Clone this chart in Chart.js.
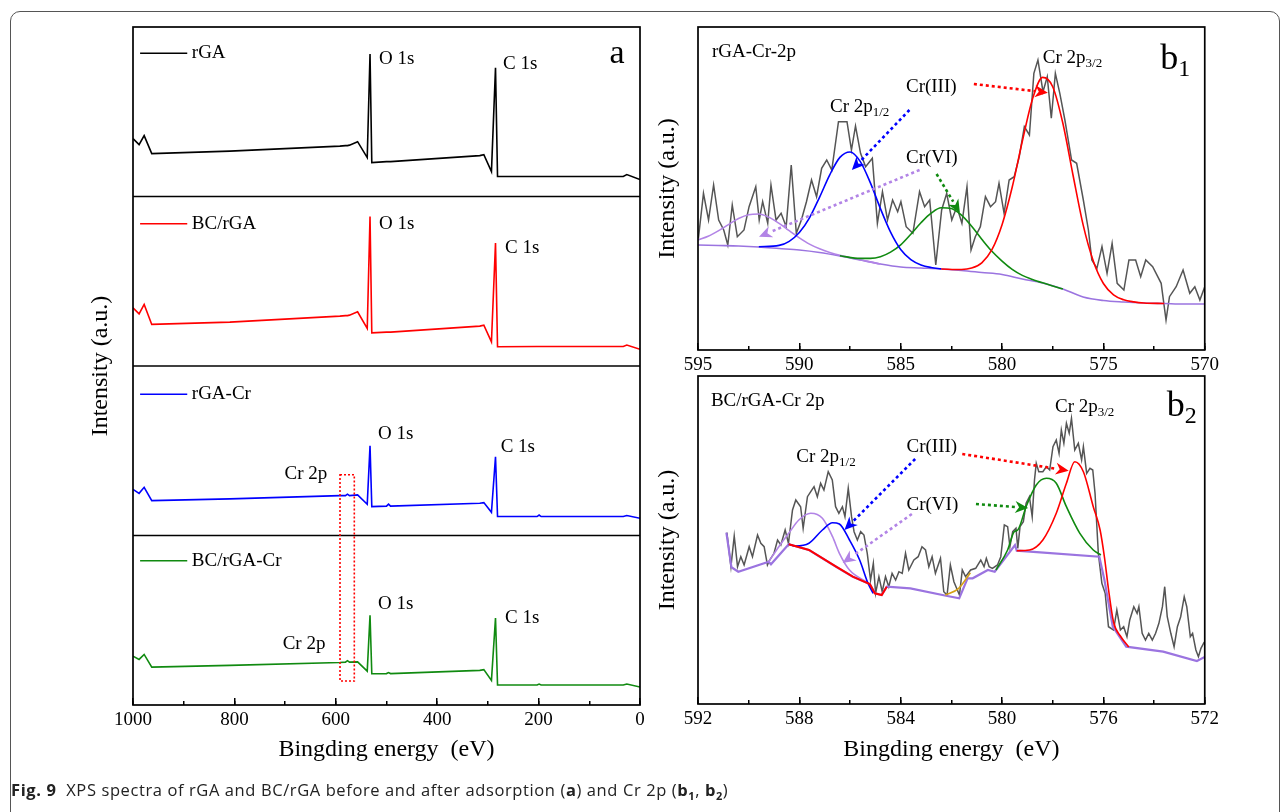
<!DOCTYPE html>
<html>
<head>
<meta charset="utf-8">
<script src="https://cdn.jsdelivr.net/npm/chart.js@4.4.1/dist/chart.umd.min.js"></script>
<style>
  body { margin: 0; background: #fff; width: 1284px; height: 812px; overflow: hidden; position: relative; }
  .frame { position: absolute; left: 10px; top: 11px; width: 1268px; height: 830px; border: 1px solid #555; border-radius: 10px; }
  canvas { position: absolute; }
  #chartA { left: 60px; top: 24px; }
  #chartB1 { left: 640px; top: 20px; }
  #chartB2 { left: 640px; top: 370px; }
  #cap { position: absolute; left: 11px; top: 778px; font-family: "Open Sans", sans-serif; font-size: 16.5px; letter-spacing: 0.6px; color: #222; white-space: nowrap; }
  #cap sub { font-size: 11px; }
</style>
</head>
<body>
<div class="frame"></div>
<canvas id="chartA" width="600" height="756"></canvas>
<canvas id="chartB1" width="590" height="365"></canvas>
<canvas id="chartB2" width="590" height="410"></canvas>
<div id="cap"><b>Fig. 9</b>&nbsp; XPS spectra of rGA and BC/rGA before and after adsorption (<b>a</b>) and Cr 2p (<b>b<sub>1</sub></b>, <b>b<sub>2</sub></b>)</div>

<script>
const SERIF = "'Liberation Serif', 'Times New Roman', serif";

// ---- panel a: survey spectra (binding energy, eV / intensity, a.u.) ----
const surveyEnergy  = [1000, 988, 978, 963, 809, 592, 581, 577, 573, 557, 538, 532.5, 529, 500, 496, 492, 316, 308, 293, 285, 281, 203, 199, 195, 33, 26, 0];
const surveyRGA     = [58, 52, 61, 43, 45.5, 50.5, 51, 51, 51.5, 55, 39, 143, 34, 35, 35, 35, 41, 42, 25, 129, 20, 20, 20, 20, 20, 22, 17];
const surveyBCRGA   = [58.3, 52.3, 61.7, 41.7, 44, 50, 50.5, 50.5, 51, 54.3, 37.7, 150, 33.3, 34, 34, 34, 40, 41, 24.3, 123.3, 19.3, 19.5, 19.5, 19.5, 19.5, 21, 16.7];
const surveyRGACr   = [46.3, 42.3, 48.3, 35, 36.7, 40, 40, 41.5, 40, 40.7, 31.3, 90, 29, 29.5, 31.5, 29.5, 32.3, 33, 23.3, 79, 19, 19, 20.5, 19, 19, 20, 17.3];
const surveyBCRGACr = [49, 45.7, 50.7, 38, 39.7, 42.7, 43, 44.5, 43, 43.3, 34, 90, 31.3, 31.5, 32.5, 31.5, 34.7, 35.5, 24.7, 87.3, 20, 20, 21, 20, 20, 21, 18];
const surveyTicks = [1000, 800, 600, 400, 200, 0];

// ---- panel b1: rGA-Cr 2p ----
const b1RawEnergy = [594.98, 594.73, 594.48, 594.23, 593.98, 593.73, 593.53, 593.31, 593.06, 592.73, 592.48, 592.15, 591.98, 591.81, 591.56, 591.40, 591.15, 590.90, 590.65, 590.40,
  590.15, 589.90, 589.65, 589.40, 589.15, 588.90, 588.65, 588.40, 588.07, 587.65, 587.43, 587.23, 586.98, 586.73, 586.40, 586.15, 585.90, 585.65, 585.40, 585.15,
  584.99, 584.73, 584.40, 584.07, 583.82, 583.57, 583.27, 582.98, 582.73, 582.48, 582.23, 581.98, 581.73, 581.53, 581.32, 581.07, 580.82, 580.57, 580.32, 580.15,
  579.90, 579.65, 579.40, 579.15, 578.90, 578.65, 578.43, 578.23, 577.98, 577.77, 577.57, 577.37, 577.15, 576.90, 576.57, 576.32, 575.99, 575.74, 575.57, 575.32,
  575.07, 574.82, 574.57, 574.32, 573.99, 573.74, 573.41, 573.16, 572.91, 572.57, 572.15, 571.91, 571.74, 571.41, 571.07, 570.74, 570.49, 570.24, 570.00];
const b1RawCounts = [111.7, 156.7, 130, 165, 130, 120, 105, 145, 113.3, 120, 143.3, 163.3, 130, 148.3, 126.7, 165, 130, 136.7, 123.3, 185,
  116.7, 130, 148.3, 170, 153.3, 181.7, 190, 180, 228.3, 228.3, 200, 224, 196.7, 183.3, 191.7, 126.7, 158.3, 130, 150, 138.3,
  148.3, 123.3, 116.7, 158.3, 143.3, 150, 85, 140, 156.7, 130, 143.3, 126.7, 163.3, 100, 113.3, 123.3, 153.3, 143.3, 148.3, 166.7,
  136.7, 170, 173.3, 193.3, 223.3, 215, 276.7, 290, 258.3, 273.3, 231.7, 276.7, 256.7, 230, 190, 186.7, 150, 120, 90, 81.7,
  103.3, 76.7, 106.7, 66.7, 60, 90, 90, 73.3, 90, 83.3, 66.7, 30, 53.3, 63.3, 80, 56.7, 63.3, 50, 63.3];
const b1BaseEnergy = [595, 594, 593, 592, 591, 590, 589, 588, 587, 586, 585, 584, 583, 582, 581, 580, 579, 578, 577, 576, 575, 574, 573, 572, 571, 570];
const b1Base       = [105, 104.5, 104, 103, 101.5, 100, 97.5, 94, 90, 86, 83, 82, 81, 79.5, 77.5, 75.5, 71, 67, 61, 53, 49.5, 48, 47, 46.5, 46, 46];
const b1VI12Energy = [595, 594.5, 594, 593.5, 593, 592.5, 592, 591.5, 591, 590.5, 590, 589.5, 589, 588.5, 588, 587, 586];
const b1VI12       = [110, 113.7, 119.1, 125.4, 131.5, 135.3, 136, 132.7, 126.6, 119.3, 112.2, 105.9, 101.2, 97.6, 94.7, 90.2, 86];
const b1III12Energy = [592, 591, 590.5, 590, 589.5, 589, 588.5, 588, 587.5, 587, 586.5, 586, 585.5, 585, 584.5, 584, 583.5, 583];
const b1III12       = [103.3, 104.6, 108.7, 117.5, 132.2, 152.9, 175.2, 192.6, 198, 188.6, 167.4, 141.4, 117.9, 100.5, 90.4, 85.1, 82.5, 81.1];
const b1VI32Energy = [588, 587, 586.5, 586, 585.5, 585, 584.5, 584, 583.5, 583, 582.5, 582, 581.5, 581, 580.5, 580, 579.5, 579, 578.5, 578, 577];
const b1VI32       = [94.2, 91.6, 91.6, 93.3, 97.9, 105.2, 115.8, 127.2, 136.8, 142.2, 141.5, 134.8, 123.7, 110.8, 98.7, 88.9, 80.6, 74.6, 70.6, 67.2, 61];
const b1III32Energy = [583, 582, 581.5, 581, 580.5, 580, 579.5, 579, 578.5, 578, 577.5, 577, 576.5, 576, 575.5, 575, 574.5, 574, 573.5, 573, 572];
const b1III32       = [81, 80.5, 81.9, 87.2, 100.3, 125.3, 162.7, 208.7, 250.8, 272.6, 263.3, 226.7, 175, 125.1, 89, 66.5, 55.2, 50.2, 48.1, 47, 46.5];

// ---- panel b2: BC/rGA-Cr 2p ----
const b2RawEnergy = [590.86, 590.70, 590.57, 590.44, 590.31, 590.18, 589.98, 589.85, 589.65, 589.52, 589.39, 589.26, 589.17, 589.00, 588.86, 588.73, 588.56, 588.43, 588.27, 588.14,
  587.95, 587.85, 587.68, 587.55, 587.42, 587.29, 587.16, 587.03, 586.86, 586.70, 586.57, 586.44, 586.30, 586.20, 586.07, 585.94, 585.84, 585.71, 585.58, 585.45,
  585.32, 585.19, 585.08, 584.99, 584.86, 584.73, 584.60, 584.47, 584.34, 584.20, 584.07, 583.94, 583.81, 583.68, 583.48, 583.31, 583.16, 583.02, 582.89, 582.76,
  582.63, 582.43, 582.30, 582.17, 582.04, 581.90, 581.68, 581.57, 581.44, 581.24, 581.04, 580.84, 580.71, 580.62, 580.51, 580.38, 580.18, 580.05, 579.91, 579.78,
  579.69, 579.58, 579.45, 579.38, 579.29, 579.16, 579.05, 578.92, 578.81, 578.72, 578.65, 578.55, 578.39, 578.25, 578.12, 577.99, 577.86, 577.75, 577.66, 577.56,
  577.46, 577.35, 577.26, 577.13, 576.99, 576.86, 576.79, 576.66, 576.53, 576.42, 576.33, 576.20, 576.06, 575.93, 575.80, 575.60, 575.47, 575.33, 575.20, 575.07,
  574.96, 574.80, 574.67, 574.60, 574.47, 574.34, 574.21, 574.07, 573.94, 573.81, 573.67, 573.58, 573.48, 573.34, 573.21, 573.08, 572.95, 572.81, 572.71, 572.57,
  572.48, 572.35, 572.25, 572.15, 572.02];
const b2RawCounts = [171.3, 137.3, 168, 137.3, 147.3, 139, 157.3, 147.3, 169, 160.7, 157.3, 139, 144, 150.7, 164, 159, 174, 160.7, 194, 204,
  197.3, 175.7, 207.3, 212.3, 217.3, 207.3, 220.7, 214, 232.3, 224, 197.3, 190.7, 197.3, 187.3, 215.7, 187.3, 172.3, 164, 172.3, 169,
  150.7, 124, 140.7, 110.7, 127.3, 112.3, 127.3, 117.3, 130.7, 124, 132.3, 130.7, 150.7, 134, 144, 147.3, 157.3, 154, 137.3, 147.3,
  130.7, 145.7, 112.3, 109, 139, 122.3, 109, 134, 127.3, 134, 135.7, 144, 137.3, 145.7, 137.3, 135.7, 139, 147.3, 179, 177.3,
  157.3, 172.3, 175.7, 155.7, 177.3, 182.3, 200.7, 207.3, 187.3, 224, 240.7, 232.3, 232.3, 237.3, 234, 257.3, 264, 250.7, 274, 260.7,
  280.7, 270.7, 285.7, 254, 260.7, 244, 257.3, 230.7, 235.7, 234, 210.7, 150.7, 120.7, 110.7, 77.3, 74, 94, 74, 77.3, 67.3,
  84, 97.3, 90.7, 97.3, 70.7, 64, 70.7, 64, 70.7, 80.7, 97.3, 117.3, 87.3, 70.7, 57.3, 77.3, 87.3, 107.3, 97.3, 67.3,
  70.7, 54, 47.3, 55.7, 62];
const b2BaseEnergy = [590.88, 590.68, 590.41, 589.21, 589.12, 588.42, 587.62, 586.55, 585.89, 585.22, 585.02, 584.75, 584.55, 583.62, 582.16, 581.69, 581.36, 581.16, 580.56, 580.29,
  579.49, 579.42, 576.16, 575.96, 575.63, 575.10, 573.64, 572.31, 572.0];
const b2Base       = [171.3, 136.7, 132.3, 142.3, 139.7, 159.7, 154, 137.3, 127.3, 120, 110.7, 109, 117.3, 115.7, 108, 105.7, 125.7, 125.7, 134, 132.3,
  159, 153.3, 147.3, 124, 77.3, 57.3, 52.3, 43, 47];
const b2BgEnergy = [588.42, 587.62, 586.55, 585.89, 585.22, 585.02, 584.75, 584.55];
const b2Bg       = [159.7, 154, 137.3, 127.3, 120, 110.7, 109, 117.3];
const b2III12Energy = [588.42, 588.16, 587.62, 587.09, 586.69, 586.42, 586.02, 585.62, 585.29, 585.09];
const b2III12       = [159.7, 158, 160.7, 174, 181.3, 180, 164, 144, 120.7, 110.7];
const b2VI12Energy = [589.21, 588.81, 588.42, 588.02, 587.55, 587.09, 586.69, 586.42, 586.02, 585.36, 585.22];
const b2VI12       = [142.3, 157.3, 170.7, 184, 190.7, 185.7, 167.3, 150.7, 134, 122.3, 120];
const b2VI32Energy = [580.24, 579.78, 579.52, 579.38, 579.05, 578.65, 578.25, 577.86, 577.46, 576.93, 576.40, 576.10];
const b2VI32       = [134, 154, 172.3, 174, 197.3, 219, 225.7, 220.7, 197.3, 170.7, 154, 149];
const b2III32Energy = [579.42, 578.92, 578.39, 577.86, 577.46, 577.13, 576.79, 576.40, 576.13, 575.96, 575.80, 575.60, 575.33, 575.00];
const b2III32       = [153.3, 154, 164, 190.7, 220.7, 242.3, 232.3, 197.3, 174, 147, 115, 82, 68, 57];
const b2ExtraEnergy = [582.24, 581.71, 581.25];
const b2Extra       = [109, 115.7, 131.3];

// ---- helpers ----
function pts(xs, ys) { return xs.map((x, i) => ({ x: x, y: ys[i] })); }

function series(label, xs, ys, color, opts) {
  return Object.assign({
    label: label, data: pts(xs, ys), borderColor: color, backgroundColor: color,
    borderWidth: 1.6, pointRadius: 0, fill: false, tension: 0, yAxisID: 'y', xAxisID: 'x'
  }, opts || {});
}

function energyAxis(min, max, step, height, title, labelsFromTicks) {
  return {
    type: 'linear', reverse: true, min: min, max: max, weight: 1,
    afterBuildTicks: labelsFromTicks ? (s => { s.ticks = labelsFromTicks.map(v => ({ value: v })); }) : undefined,
    ticks: { stepSize: step, color: '#000', font: { family: SERIF, size: 19 }, padding: 11, maxRotation: 0, autoSkip: false, callback: v => String(v) },
    grid: { drawOnChartArea: false, tickLength: -7, color: '#000', lineWidth: 1.5 },
    border: { display: false },
    title: title ? { display: true, text: title, color: '#000', font: { family: SERIF, size: 24 }, padding: { top: 0, bottom: 16 } } : { display: false },
    afterFit: s => { s.height = height; }
  };
}

function minorAxis(min, max, step) {
  return {
    type: 'linear', reverse: true, min: min, max: max, weight: 0,
    ticks: { stepSize: step, display: false },
    grid: { drawOnChartArea: false, tickLength: -4, color: '#000', lineWidth: 1.5 },
    border: { display: false },
    afterFit: s => { s.height = 0; }
  };
}

function intensityAxis(min, max, width, pad) {
  return {
    type: 'linear', min: min, max: max,
    ticks: { display: false }, grid: { display: false }, border: { display: false },
    title: { display: true, text: 'Intensity (a.u.)', color: '#000', font: { family: SERIF, size: 24 }, padding: { top: pad, bottom: 0 } },
    afterFit: s => { s.width = width; }
  };
}

// frame round the plot area (and band separators for panel a)
const framePlugin = {
  id: 'frame',
  afterDatasetsDraw(chart, args, opts) {
    const { ctx, chartArea: a } = chart;
    ctx.save();
    ctx.strokeStyle = '#000';
    ctx.lineWidth = 1.7;
    ctx.strokeRect(a.left, a.top, a.right - a.left, a.bottom - a.top);
    const n = opts.bands || 1;
    for (let i = 1; i < n; i++) {
      const y = a.top + (a.bottom - a.top) * i / n;
      ctx.beginPath(); ctx.moveTo(a.left, y); ctx.lineTo(a.right, y); ctx.stroke();
    }
    ctx.restore();
  }
};

function text(ctx, s, x, y, size, align) {
  ctx.font = size + 'px ' + SERIF;
  ctx.textAlign = align || 'left';
  ctx.textBaseline = 'middle';
  ctx.fillText(s, x, y);
}

function textSub(ctx, s, sub, x, y, size, subSize, dy) {
  text(ctx, s, x, y, size);
  const w = ctx.measureText(s).width;
  text(ctx, sub, x + w, y + dy, subSize);
}

function dottedArrow(ctx, x1, y1, x2, y2, color) {
  const ang = Math.atan2(y2 - y1, x2 - x1), head = 13, hw = 6;
  const bx = x2 - head * Math.cos(ang), by = y2 - head * Math.sin(ang);
  ctx.save();
  ctx.strokeStyle = color; ctx.fillStyle = color; ctx.lineWidth = 2.6;
  ctx.setLineDash([3, 3]);
  ctx.beginPath(); ctx.moveTo(x1, y1); ctx.lineTo(bx, by); ctx.stroke();
  ctx.setLineDash([]);
  ctx.beginPath();
  ctx.moveTo(x2, y2);
  ctx.lineTo(bx - hw * Math.sin(ang), by + hw * Math.cos(ang));
  ctx.lineTo(x2 - head * 0.7 * Math.cos(ang), y2 - head * 0.7 * Math.sin(ang));
  ctx.lineTo(bx + hw * Math.sin(ang), by - hw * Math.cos(ang));
  ctx.closePath(); ctx.fill();
  ctx.restore();
}

// ---- panel a ----
const BAND = 170;
function bandAxis(k) {
  return { type: 'linear', display: false, min: (k + 1) * BAND - 4 * BAND, max: (k + 1) * BAND };
}

const annotA = {
  id: 'annotA',
  afterDraw(chart) {
    const { ctx, scales } = chart;
    const X = e => scales.x.getPixelForValue(e);
    const Y = (k, v) => scales['y' + k].getPixelForValue(v);
    ctx.save();
    ctx.fillStyle = '#000';
    const legendV = [143.7, 142.7, 141.7, 144.7];
    chart.data.datasets.forEach((ds, k) => {
      ctx.strokeStyle = ds.borderColor; ctx.lineWidth = 1.6;
      ctx.beginPath(); ctx.moveTo(X(986), Y(k, legendV[k])); ctx.lineTo(X(893), Y(k, legendV[k])); ctx.stroke();
      ctx.fillStyle = '#000';
      text(ctx, ds.label, X(884), Y(k, legendV[k]), 19);
    });
    const o1s = [[514.8, 138], [514.8, 142], [516.8, 101.3], [516.8, 101]];
    const c1s = [[270.2, 133], [266.3, 118], [274.8, 89], [266.3, 87]];
    o1s.forEach((p, k) => text(ctx, 'O 1s', X(p[0]), Y(k, p[1]), 19));
    c1s.forEach((p, k) => text(ctx, 'C 1s', X(p[0]), Y(k, p[1]), 19));
    text(ctx, 'Cr 2p', X(658.8), Y(2, 62), 19, 'center');
    text(ctx, 'Cr 2p', X(662.7), Y(3, 61), 19, 'center');
    text(ctx, 'a', X(45.3), Y(0, 143), 34, 'center');
    // dotted box round the Cr 2p region
    ctx.strokeStyle = '#ff0000'; ctx.lineWidth = 1.6; ctx.setLineDash([2, 2]);
    ctx.strokeRect(X(591.7), Y(2, 61), X(563.5) - X(591.7), Y(3, 24) - Y(2, 61));
    ctx.restore();
  }
};

new Chart(document.getElementById('chartA'), {
  type: 'line',
  data: {
    datasets: [
      series('rGA', surveyEnergy, surveyRGA, '#000000', { yAxisID: 'y0' }),
      series('BC/rGA', surveyEnergy, surveyBCRGA, '#ff0000', { yAxisID: 'y1' }),
      series('rGA-Cr', surveyEnergy, surveyRGACr, '#0000ff', { yAxisID: 'y2' }),
      series('BC/rGA-Cr', surveyEnergy, surveyBCRGACr, '#108a10', { yAxisID: 'y3' })
    ]
  },
  options: {
    responsive: false, animation: false,
    layout: { padding: { left: 0, right: 20, top: 3, bottom: 0 } },
    plugins: { legend: { display: false }, tooltip: { enabled: false }, frame: { bands: 4 } },
    scales: {
      xm: minorAxis(0, 1000, 100),
      x: energyAxis(0, 1000, 200, 75, 'Bingding energy  (eV)', surveyTicks),
      y: intensityAxis(0, 1, 73, 26),
      y0: bandAxis(0), y1: bandAxis(1), y2: bandAxis(2), y3: bandAxis(3)
    }
  },
  plugins: [framePlugin, annotA]
});

// ---- panel b1 ----
const annotB1 = {
  id: 'annotB1',
  afterDraw(chart) {
    const { ctx, scales } = chart;
    const X = e => scales.x.getPixelForValue(e);
    const Y = v => scales.y.getPixelForValue(v);
    ctx.save();
    ctx.fillStyle = '#000';
    text(ctx, 'rGA-Cr-2p', X(594.31), Y(298), 19);
    textSub(ctx, 'b', '1', X(572.2), Y(290), 36, 24, 10);
    textSub(ctx, 'Cr 2p', '3/2', X(577.99), Y(292), 19, 13, 6);
    textSub(ctx, 'Cr 2p', '1/2', X(588.49), Y(243), 19, 13, 6);
    text(ctx, 'Cr(III)', X(584.74), Y(263), 19);
    text(ctx, 'Cr(VI)', X(584.74), Y(192), 19);
    dottedArrow(ctx, X(581.39), Y(266), X(577.74), Y(257.3), '#ff0000');
    dottedArrow(ctx, X(584.57), Y(240), X(587.41), Y(180), '#0000ff');
    dottedArrow(ctx, X(584.07), Y(180), X(591.99), Y(113.3), '#b284e6');
    dottedArrow(ctx, X(583.23), Y(176), X(582.08), Y(137.3), '#108a10');
    ctx.restore();
  }
};

const smooth = { cubicInterpolationMode: 'monotone' };

new Chart(document.getElementById('chartB1'), {
  type: 'line',
  data: {
    datasets: [
      series('Cr(III) 2p3/2', b1III32Energy, b1III32, '#ff0000', smooth),
      series('Cr(III) 2p1/2', b1III12Energy, b1III12, '#0000ff', smooth),
      series('Cr(VI) 2p3/2', b1VI32Energy, b1VI32, '#108a10', smooth),
      series('Cr(VI) 2p1/2', b1VI12Energy, b1VI12, '#b284e6', smooth),
      series('Background', b1BaseEnergy, b1Base, '#9b74e0', smooth),
      series('Raw', b1RawEnergy, b1RawCounts, '#555555', { borderWidth: 1.5 })
    ]
  },
  options: {
    responsive: false, animation: false,
    layout: { padding: { left: 0, right: 25, top: 7, bottom: 0 } },
    plugins: { legend: { display: false }, tooltip: { enabled: false } },
    scales: {
      xm: minorAxis(570, 595, 2.5),
      x: energyAxis(570, 595, 5, 35, null),
      y: intensityAxis(0, 323, 58, 13)
    }
  },
  plugins: [framePlugin, annotB1]
});

// ---- panel b2 ----
const annotB2 = {
  id: 'annotB2',
  afterDraw(chart) {
    const { ctx, scales } = chart;
    const X = e => scales.x.getPixelForValue(e);
    const Y = v => scales.y.getPixelForValue(v);
    ctx.save();
    ctx.fillStyle = '#000';
    text(ctx, 'BC/rGA-Cr 2p', X(591.49), Y(303.3), 19);
    textSub(ctx, 'b', '2', X(573.5), Y(297), 36, 24, 10);
    textSub(ctx, 'Cr 2p', '3/2', X(577.91), Y(297), 19, 13, 6);
    textSub(ctx, 'Cr 2p', '1/2', X(588.12), Y(247), 19, 13, 6);
    text(ctx, 'Cr(III)', X(583.77), Y(257), 19);
    text(ctx, 'Cr(VI)', X(583.77), Y(199), 19);
    dottedArrow(ctx, X(581.57), Y(250), X(577.37), Y(233.3), '#ff0000');
    dottedArrow(ctx, X(583.43), Y(245), X(586.22), Y(174), '#0000ff');
    dottedArrow(ctx, X(581.03), Y(200), X(578.97), Y(196), '#108a10');
    dottedArrow(ctx, X(583.56), Y(190), X(586.29), Y(141), '#b284e6');
    ctx.restore();
  }
};

new Chart(document.getElementById('chartB2'), {
  type: 'line',
  data: {
    datasets: [
      series('Cr(III) 2p3/2', b2III32Energy, b2III32, '#ff0000', smooth),
      series('Background (red)', b2BgEnergy, b2Bg, '#ff0000', { borderWidth: 2 }),
      series('Cr(VI) 2p3/2', b2VI32Energy, b2VI32, '#108a10', smooth),
      series('Cr(III) 2p1/2', b2III12Energy, b2III12, '#0000ff', smooth),
      series('Cr(VI) 2p1/2', b2VI12Energy, b2VI12, '#b284e6', smooth),
      series('Other', b2ExtraEnergy, b2Extra, '#d4a017', smooth),
      series('Background', b2BaseEnergy, b2Base, '#9b74e0', { borderWidth: 2.2 }),
      series('Raw', b2RawEnergy, b2RawCounts, '#555555', { borderWidth: 1.5 })
    ]
  },
  options: {
    responsive: false, animation: false,
    layout: { padding: { left: 0, right: 25, top: 6, bottom: 0 } },
    plugins: { legend: { display: false }, tooltip: { enabled: false } },
    scales: {
      xm: minorAxis(572, 592, 2),
      x: energyAxis(572, 592, 4, 76, 'Bingding energy  (eV)'),
      y: intensityAxis(0, 328, 58, 13)
    }
  },
  plugins: [framePlugin, annotB2]
});
</script>
</body>
</html>
